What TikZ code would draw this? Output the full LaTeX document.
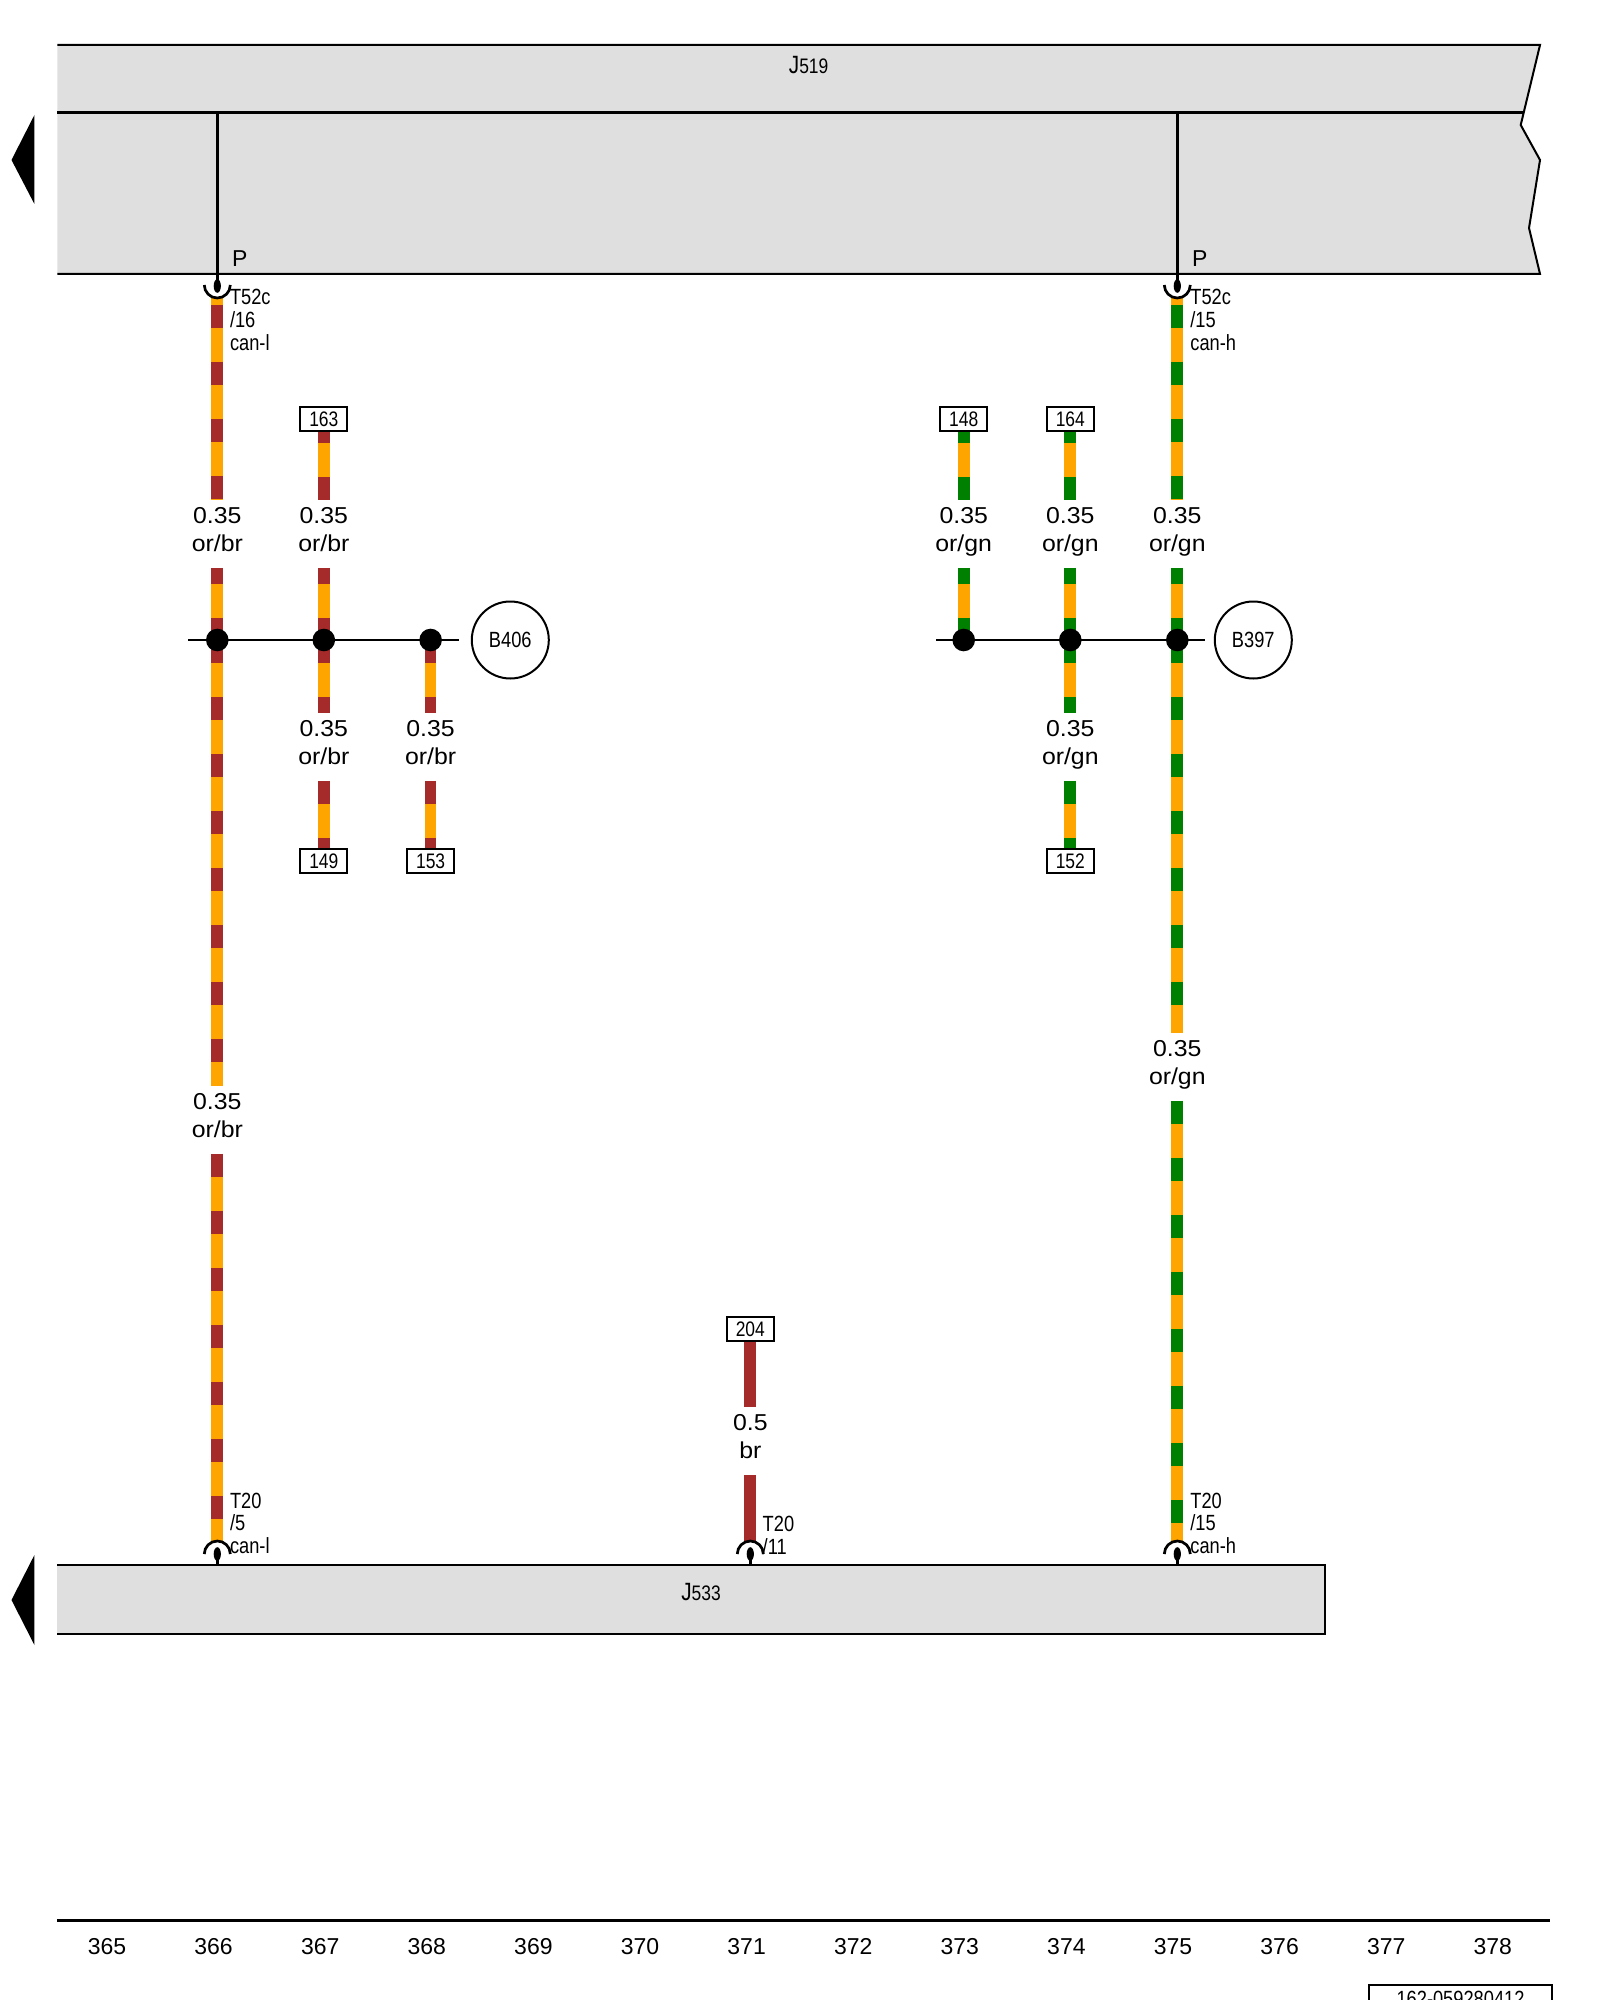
\documentclass[tikz,border=0pt]{standalone}
\usepackage{fontspec}
\setmainfont{Liberation Sans}
\newfontfamily\narrowfont[FakeStretch=0.83]{Liberation Sans}
\newfontfamily\widefont[FakeStretch=1.08]{Liberation Sans}
\usetikzlibrary{shapes.geometric,backgrounds}
\definecolor{wireor}{HTML}{FFA500}
\definecolor{wirebr}{HTML}{A52A2A}
\definecolor{wiregn}{HTML}{008000}
\definecolor{unitgray}{HTML}{DFDFDF}
\tikzset{
  unit/.style={fill=unitgray,draw=black,line width=1pt},
  signal/.style={draw=black,line width=1.2pt},
  bus/.style={draw=black,line width=1.35pt},
  cupline/.style={draw=black,line width=1.35pt},
  pinblob/.style={ellipse,fill=black,inner sep=0,minimum width=3.6pt,minimum height=6.8pt},
  dot/.style={circle,fill=black,inner sep=0,minimum size=11.3pt},
  refbox/.style={draw=black,fill=white,line width=1pt,inner sep=0,minimum width=23.5pt,minimum height=12.2pt,font=\narrowfont\fontsize{10.5}{11}\selectfont},
  wirelab/.style={anchor=north,inner sep=0,align=center,text height=25.35pt,text depth=8.15pt,font=\widefont\fontsize{11.5}{14}\selectfont},
  pinlab/.style={anchor=base west,inner sep=0,align=left,font=\narrowfont\fontsize{11}{11.35}\selectfont},
  earth/.style={circle,draw=black,line width=1pt,inner sep=0,minimum size=38.5pt,font=\narrowfont\fontsize{11}{12}\selectfont},
  wirebase/.style={draw=wireor,line width=5.85pt},
  wiretop/.style={draw=#1,line width=5.85pt,dash pattern=on 11.5pt off 17pt},
  wirefull/.style={draw=#1,line width=5.85pt}
}
\newcommand{\wire}[4]{\draw[wirebase] (#1)--(#2); \draw[wiretop=#3,dash phase=#4] (#1)--(#2);}
\newcommand{\unitname}[1]{\narrowfont{\fontsize{12.5}{12}\selectfont J}{\fontsize{10.5}{12}\selectfont #1}}
\begin{document}
\begin{tikzpicture}[x=.5pt,y=-.5pt]
\clip (0,0) rectangle (1600,2000);
% arrows at the left
\fill (34.4,115)--(11.5,160)--(34.4,204)--cycle;
\fill (34.4,1555)--(11.5,1600)--(34.4,1645)--cycle;
% control units
\filldraw[unit] (57.4,45)--(1540,45)--(1520.7,125)--(1540,160)--(1529,228)--(1540,274)--(57.4,274);
\draw[bus] (57.4,112.7)--(1523,112.7);
\filldraw[unit] (57.4,1565)--(1325,1565)--(1325,1634)--(57.4,1634);
\node[inner sep=0] (j519) at (808.6,65) {\unitname{519}};
\node[inner sep=0] (j533) at (701,1592) {\unitname{533}};
% connectors at the top
\coordinate (a366) at (217.3,113);
\coordinate (a375) at (1177.3,113);
\node[pinblob] (p366) at (217.3,286) {};
\node[pinblob] (p375) at (1177.3,286) {};
\draw[signal] (a366)--(p366.center);
\draw[signal] (a375)--(p375.center);
\draw[cupline] (217.3,285) ++(-13,0) arc[start angle=180,end angle=360,radius=6.5pt];
\draw[cupline] (1177.3,285) ++(-13,0) arc[start angle=180,end angle=360,radius=6.5pt];
\node[inner sep=0,font=\fontsize{11.5}{12}\selectfont] (pl366) at (239.8,258.7) {P};
\node[inner sep=0,font=\fontsize{11.5}{12}\selectfont] (pl375) at (1199.8,258.7) {P};
\node[pinlab] (t366) at (229.6,350.4) {T52c\\/16\\can-l};
\node[pinlab] (t375) at (1190,350.4) {T52c\\/15\\can-h};
% connectors at the bottom
\coordinate (b366) at (217.3,1565);
\coordinate (b371) at (750.3,1565);
\coordinate (b375) at (1177.3,1565);
\node[pinblob] (q366) at (217.3,1554) {};
\node[pinblob] (q371) at (750.3,1554) {};
\node[pinblob] (q375) at (1177.3,1554) {};
\draw[signal] (q366.center)--(b366);
\draw[signal] (q371.center)--(b371);
\draw[signal] (q375.center)--(b375);
\draw[cupline] (217.3,1554) ++(-13,0) arc[start angle=180,end angle=0,radius=6.5pt];
\draw[cupline] (750.3,1554) ++(-13,0) arc[start angle=180,end angle=0,radius=6.5pt];
\draw[cupline] (1177.3,1554) ++(-13,0) arc[start angle=180,end angle=0,radius=6.5pt];
\node[pinlab] (u366) at (229.6,1553.5) {T20\\/5\\can-l};
\node[pinlab] (u371) at (762.3,1554) {T20\\/11};
\node[pinlab] (u375) at (1190,1553.5) {T20\\/15\\can-h};
% wire ends at the connectors
\coordinate (w366t) at (217.3,297.7);
\coordinate (w375t) at (1177.3,297.7);
\coordinate (w366b) at (217.3,1541);
\coordinate (w371b) at (750.3,1541);
\coordinate (w375b) at (1177.3,1541);
% reference boxes
\node[refbox] (r163) at (323.8,419) {163};
\node[refbox] (r149) at (323.8,861) {149};
\node[refbox] (r153) at (430.6,861) {153};
\node[refbox] (r148) at (963.7,419) {148};
\node[refbox] (r164) at (1070.3,419) {164};
\node[refbox] (r152) at (1070.3,861) {152};
\node[refbox] (r204) at (750.3,1329) {204};
% wire labels
\node[wirelab] (l366a) at (217.3,500) {0.35\\or/br};
\node[wirelab] (l367a) at (323.8,500) {0.35\\or/br};
\node[wirelab] (l367b) at (323.8,713) {0.35\\or/br};
\node[wirelab] (l368b) at (430.6,713) {0.35\\or/br};
\node[wirelab] (l366c) at (217.3,1086) {0.35\\or/br};
\node[wirelab] (l373a) at (963.7,500) {0.35\\or/gn};
\node[wirelab] (l374a) at (1070.3,500) {0.35\\or/gn};
\node[wirelab] (l375a) at (1177.3,500) {0.35\\or/gn};
\node[wirelab] (l374b) at (1070.3,713) {0.35\\or/gn};
\node[wirelab] (l375c) at (1177.3,1033) {0.35\\or/gn};
\node[wirelab] (l371) at (750.3,1407) {0.5\\br};
% junctions
\coordinate (busl406) at (188.3,640);
\coordinate (busr406) at (459.3,640);
\coordinate (busl397) at (936,640);
\coordinate (busr397) at (1205,640);
\draw[bus] (busl406)--(busr406);
\draw[bus] (busl397)--(busr397);
\foreach \n/\x in {366/217.3,367/323.8,368/430.6,373/963.7,374/1070.3,375/1177.3}
  \node[dot] (d\n) at (\x,640) {};
\node[earth] (b406) at (510.3,640) {B406};
\node[earth] (b397) at (1253.3,640) {B397};
% wires
\begin{pgfonlayer}{background}
\wire{w366t}{l366a.north}{wirebr}{24.85pt}
\wire{l366a.south}{d366.center}{wirebr}{3.5pt}
\wire{d366.center}{l366c.north}{wirebr}{0pt}
\wire{l366c.south}{w366b}{wirebr}{0pt}
\wire{r163.south}{l367a.north}{wirebr}{5.85pt}
\wire{l367a.south}{d367.center}{wirebr}{3.5pt}
\wire{d367.center}{l367b.north}{wirebr}{0pt}
\wire{l367b.south}{r149.north}{wirebr}{0pt}
\wire{d368.center}{l368b.north}{wirebr}{0pt}
\wire{l368b.south}{r153.north}{wirebr}{0pt}
\wire{r148.south}{l373a.north}{wiregn}{5.85pt}
\wire{l373a.south}{d373.center}{wiregn}{3.5pt}
\wire{r164.south}{l374a.north}{wiregn}{5.85pt}
\wire{l374a.south}{d374.center}{wiregn}{3.5pt}
\wire{d374.center}{l374b.north}{wiregn}{0pt}
\wire{l374b.south}{r152.north}{wiregn}{0pt}
\wire{w375t}{l375a.north}{wiregn}{24.85pt}
\wire{l375a.south}{d375.center}{wiregn}{3.5pt}
\wire{d375.center}{l375c.north}{wiregn}{0pt}
\wire{l375c.south}{w375b}{wiregn}{0pt}
\draw[wirefull=wirebr] (r204.south)--(l371.north);
\draw[wirefull=wirebr] (l371.south)--(w371b);
\end{pgfonlayer}
% page numbers
\coordinate (rulel) at (57.4,1920.5);
\coordinate (ruler) at (1550,1920.5);
\draw[bus] (rulel)--(ruler);
\foreach \n [count=\i from 0] in {365,...,378}
  \node[inner sep=0,font=\fontsize{11.5}{12}\selectfont] (n\n) at (107+106.6*\i,1946.7) {\n};
\node[draw=black,line width=1pt,inner sep=0,minimum width=91.5pt,minimum height=14pt,anchor=north west,font=\narrowfont\fontsize{11}{12}\selectfont] (code) at (1368,1984) {162-059280412};
\end{tikzpicture}
\end{document}
